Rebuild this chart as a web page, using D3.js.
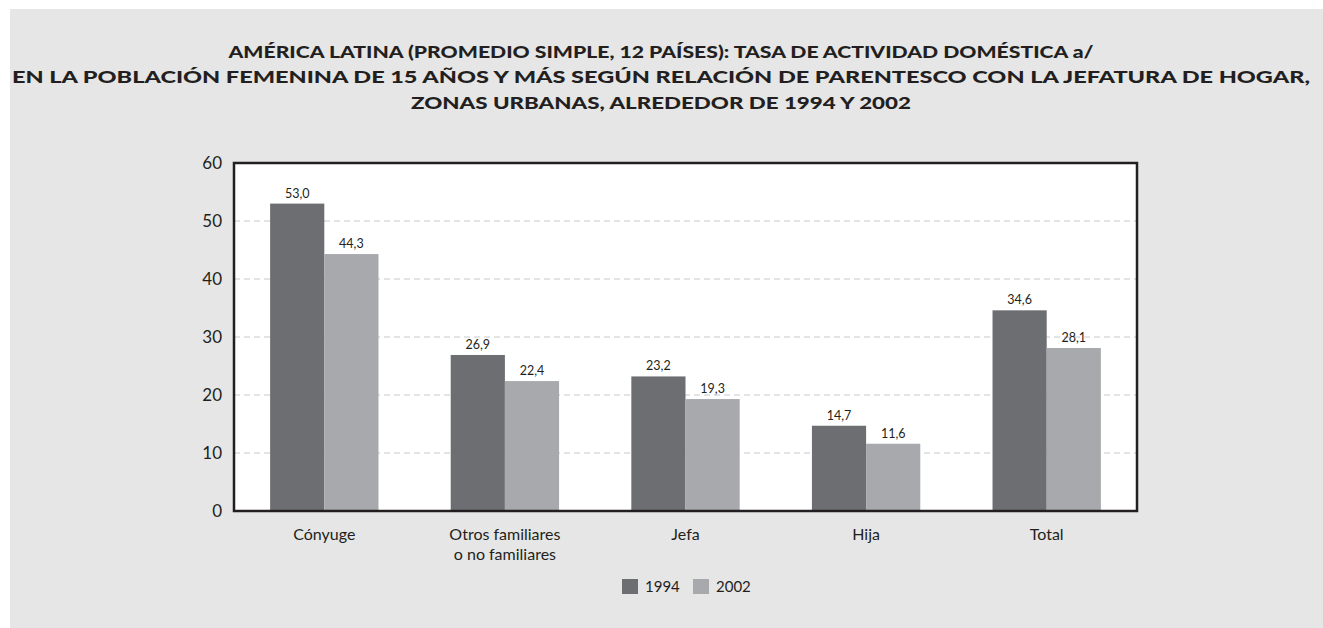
<!DOCTYPE html>
<html>
<head>
<meta charset="utf-8">
<script src="https://cdn.jsdelivr.net/npm/d3@7"></script>
<style>
  body { margin: 0; background: #fff; }
  svg { display: block; }
</style>
</head>
<body>
<script>
// data
var categories = ["Cónyuge", "Otros familiares|o no familiares", "Jefa", "Hija", "Total"];
var years = ["1994", "2002"];
var values1994 = [53.0, 26.9, 23.2, 14.7, 34.6];
var values2002 = [44.3, 22.4, 19.3, 11.6, 28.1];
var yTicks = [0, 10, 20, 30, 40, 50, 60];
var titleLines = [
  "AMÉRICA LATINA (PROMEDIO SIMPLE, 12 PAÍSES): TASA DE ACTIVIDAD DOMÉSTICA a/",
  "EN LA POBLACIÓN FEMENINA DE 15 AÑOS Y MÁS SEGÚN RELACIÓN DE PARENTESCO CON LA JEFATURA DE HOGAR,",
  "ZONAS URBANAS, ALREDEDOR DE 1994 Y 2002"
];
var titleWidths = [865, 1298, 500];
var colors = ["#6d6e71", "#a7a9ac"];

var W = 1323, H = 628;
var margin = { top: 163, right: 186, bottom: 117, left: 234 };
var width = W - margin.left - margin.right;
var height = H - margin.top - margin.bottom;

var rows = categories.map(function (c, i) {
  return { cat: c, vals: [values1994[i], values2002[i]] };
});

var svg = d3.select("body").append("svg")
  .attr("width", W)
  .attr("height", H)
  .style("font-family", "Lato, 'Open Sans', sans-serif");

// grey panel
svg.append("rect")
  .attr("x", 10).attr("y", 9)
  .attr("width", W - 10).attr("height", H - 9)
  .attr("fill", "#e6e6e6");

// title
svg.append("g").selectAll("text")
  .data(titleLines)
  .enter().append("text")
  .attr("x", 661)
  .attr("y", function (d, i) { return 57.5 + i * 25.5; })
  .attr("text-anchor", "middle")
  .attr("font-size", "17.5px")
  .attr("font-weight", "900")
  .attr("fill", "#231f20")
  .attr("textLength", function (d, i) { return titleWidths[i]; })
  .attr("lengthAdjust", "spacingAndGlyphs")
  .text(function (d) { return d; });

var g = svg.append("g")
  .attr("transform", "translate(" + margin.left + "," + margin.top + ")");

var x0 = d3.scaleBand().domain(categories).range([0, width]).paddingInner(0.4).paddingOuter(0.2);
var x1 = d3.scaleBand().domain(years).range([0, x0.bandwidth()]);
var y = d3.scaleLinear().domain([0, 60]).range([height, 0]);

// plot background
g.append("rect")
  .attr("width", width).attr("height", height)
  .attr("fill", "#fff");

// dashed grid
g.append("g").selectAll("line")
  .data(yTicks.filter(function (t) { return t > 0 && t < 60; }))
  .enter().append("line")
  .attr("x1", 0).attr("x2", width)
  .attr("y1", function (d) { return y(d); })
  .attr("y2", function (d) { return y(d); })
  .attr("stroke", "#c8c8c8")
  .attr("stroke-width", 1)
  .attr("stroke-dasharray", "6,4");

// bars
var groups = g.append("g").selectAll("g")
  .data(rows)
  .enter().append("g")
  .attr("transform", function (d) { return "translate(" + x0(d.cat) + ",0)"; });

groups.selectAll("rect")
  .data(function (d) { return d.vals.map(function (v, i) { return { key: years[i], v: v, i: i }; }); })
  .enter().append("rect")
  .attr("x", function (d) { return x1(d.key); })
  .attr("y", function (d) { return y(d.v); })
  .attr("width", x1.bandwidth())
  .attr("height", function (d) { return height - y(d.v); })
  .attr("fill", function (d) { return colors[d.i]; });

groups.selectAll("text")
  .data(function (d) { return d.vals.map(function (v, i) { return { key: years[i], v: v }; }); })
  .enter().append("text")
  .attr("x", function (d) { return x1(d.key) + x1.bandwidth() / 2; })
  .attr("y", function (d) { return y(d.v) - 6; })
  .attr("text-anchor", "middle")
  .attr("font-size", "12.5px")
  .attr("fill", "#231f20")
  .text(function (d) { return d.v.toFixed(1).replace(".", ","); });

// frame
g.append("rect")
  .attr("width", width).attr("height", height)
  .attr("fill", "none")
  .attr("stroke", "#231f20")
  .attr("stroke-width", 2.5);

// y axis
var yAxis = g.append("g")
  .call(d3.axisLeft(y).tickValues(yTicks).tickSize(0).tickPadding(12));
yAxis.select(".domain").remove();
yAxis.selectAll("text")
  .attr("font-size", "17px")
  .attr("font-family", "Lato, 'Open Sans', sans-serif")
  .attr("fill", "#231f20");

// x axis
var xAxis = g.append("g")
  .attr("transform", "translate(0," + height + ")")
  .call(d3.axisBottom(x0).tickSize(0).tickPadding(18).tickFormat(""));
xAxis.select(".domain").remove();
xAxis.selectAll(".tick text").each(function (d) {
  var t = d3.select(this);
  t.attr("font-size", "16px")
    .attr("font-family", "Lato, 'Open Sans', sans-serif")
    .attr("fill", "#231f20");
  d.split("|").forEach(function (line, i) {
    t.append("tspan")
      .attr("x", 0)
      .attr("dy", i === 0 ? "0.71em" : "1.2em")
      .text(line);
  });
});

// legend
var legend = svg.append("g").attr("transform", "translate(622,579)");
var items = legend.selectAll("g")
  .data(years)
  .enter().append("g")
  .attr("transform", function (d, i) { return "translate(" + (i * 71) + ",0)"; });
items.append("rect")
  .attr("width", 16).attr("height", 15)
  .attr("fill", function (d, i) { return colors[i]; });
items.append("text")
  .attr("x", 23).attr("y", 13)
  .attr("font-size", "15px")
  .attr("fill", "#231f20")
  .text(function (d) { return d; });
</script>
</body>
</html>
